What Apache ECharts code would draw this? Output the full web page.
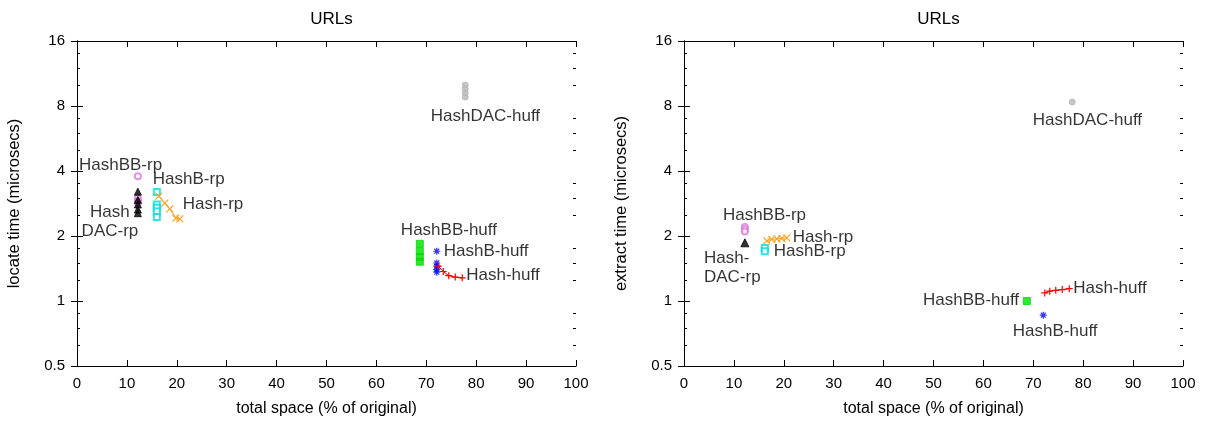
<!DOCTYPE html>
<html><head><meta charset="utf-8">
<script src="https://cdn.jsdelivr.net/npm/echarts@6/dist/echarts.min.js"></script>
<style>html,body{margin:0;padding:0;background:#fff}#c{width:1214px;height:422px}</style>
</head><body><div id="c"></div>
<script>
// ---- data (x = total space %, y = time in microsecs) ----
const titles = ['URLs', 'URLs'];
const yNames = ['locate time (microsecs)', 'extract time (microsecs)'];
const xName = 'total space (% of original)';
const yTickValues = [0.5, 1, 2, 4, 8, 16];
const yMinorValues = [0.625, 0.75, 0.875, 1.25, 1.5, 1.75, 2.5, 3, 3.5, 5, 6, 7, 10, 12, 14];

// left panel: locate
const hashBBrpL   = [[12.2,3.78],[12.2,3.0],[12.2,2.9],[12.2,2.85]];
const hashDACrpL  = [[12.2,3.21],[12.2,2.94],[12.2,2.8],[12.2,2.65],[12.2,2.55]];
const hashBrpL    = [[16.0,3.2],[16.0,2.8],[16.0,2.7],[16.0,2.6],[16.0,2.45]];
const hashrpL     = [[16.4,3.06],[17.6,2.84],[18.6,2.67],[19.8,2.42],[20.6,2.4]];
const hashBBhuffL = [[68.7,1.84],[68.7,1.7],[68.7,1.6],[68.7,1.52]];
const hashBhuffL  = [[72.1,1.7],[72.1,1.5],[72.1,1.45],[72.1,1.4],[72.1,1.36]];
const hashhuffL   = [[72.4,1.45],[73.4,1.37],[74.5,1.31],[75.8,1.29],[77.2,1.28]];
const hashDAChuffL= [[77.8,10.0],[77.8,9.6],[77.8,9.2],[77.8,8.8]];

// right panel: extract
const hashBBrpR   = [[12.2,2.2],[12.2,2.15],[12.2,2.1]];
const hashDACrpR  = [[12.2,1.86]];
const hashBrpR    = [[16.2,1.76],[16.2,1.7]];
const hashrpR     = [[16.6,1.9],[17.6,1.93],[18.6,1.94],[19.6,1.95],[20.6,1.96]];
const hashBBhuffR = [[68.7,1.0]];
const hashBhuffR  = [[72.0,0.86]];
const hashhuffR   = [[72.3,1.09],[73.3,1.11],[74.5,1.12],[75.8,1.13],[77.2,1.14]];
const hashDAChuffR= [[77.8,8.35]];

// annotation labels: [x, y, text, align]
const labelsL = [
  [0.4, 4.26, 'HashBB-rp', 'left'],
  [15.2, 3.67, 'HashB-rp', 'left'],
  [21.2, 2.81, 'Hash-rp', 'left'],
  [6.6, 2.33, 'Hash\nDAC-rp', 'center'],
  [70.9, 7.19, 'HashDAC-huff', 'left'],
  [64.9, 2.13, 'HashBB-huff', 'left'],
  [73.5, 1.70, 'HashB-huff', 'left'],
  [78.0, 1.31, 'Hash-huff', 'left']
];
const labelsR = [
  [7.8, 2.50, 'HashBB-rp', 'left'],
  [21.8, 1.98, 'Hash-rp', 'left'],
  [18.0, 1.69, 'HashB-rp', 'left'],
  [4.0, 1.43, 'Hash-\nDAC-rp', 'left'],
  [69.9, 6.89, 'HashDAC-huff', 'left'],
  [78.0, 1.15, 'Hash-huff', 'left'],
  [47.9, 1.01, 'HashBB-huff', 'left'],
  [65.9, 0.72, 'HashB-huff', 'left']
];

// ---- styles ----
const FONT = 'Liberation Sans, Arial, sans-serif';
const SYM_X = 'path://M0,0L10,10M10,0L0,10';
const SYM_PLUS = 'path://M5,0L5,10M0,5L10,5';
const SYM_STAR = 'path://M5,0L5,10M0,5L10,5M1.5,1.5L8.5,8.5M8.5,1.5L1.5,8.5';

function pts(name, data, gi, color, symbol, size, mode, line) {
  let itemStyle;
  if (mode === 'fill') itemStyle = { color: color, borderColor: color, borderWidth: 1 };
  else if (mode === 'empty') itemStyle = { color: color, borderWidth: 1 };
  else itemStyle = { color: 'rgba(0,0,0,0)', borderColor: color, borderWidth: 1.2 };
  const s = {
    name, type: line ? 'line' : 'scatter', xAxisIndex: gi * 2, yAxisIndex: gi * 4,
    data, symbol, symbolSize: size, z: 3, silent: true, animation: false, itemStyle
  };
  if (line) { s.lineStyle = { color: color, width: 1 }; s.showSymbol = true; }
  return s;
}
function labelSeries(arr, gi) {
  return {
    type: 'scatter', xAxisIndex: gi * 2, yAxisIndex: gi * 4, symbolSize: 0, silent: true, animation: false, z: 5,
    data: arr.map(a => ({
      value: [a[0], a[1]],
      label: {
        show: true, formatter: a[2], position: a[3] === 'center' ? 'inside' : 'right', distance: 0,
        align: a[3], verticalAlign: 'middle', fontSize: 17, fontFamily: FONT, color: '#000', lineHeight: 19
      }
    }))
  };
}

const grids = [
  { left: 77, right: 638, top: 41, bottom: 56 },
  { left: 684, right: 31, top: 41, bottom: 56 }
];
const xAxes = [], yAxes = [];
for (let g = 0; g < 2; g++) {
  const baseX = { type: 'value', gridIndex: g, min: 0, max: 100, interval: 10, splitLine: { show: false },
    axisLine: { show: true, lineStyle: { color: '#000', width: 1 } },
    axisTick: { show: true, inside: true, length: 6, lineStyle: { color: '#000' } } };
  xAxes.push(Object.assign({}, baseX, { position: 'bottom', name: xName, nameLocation: 'middle', nameGap: 35,
    nameTextStyle: { fontSize: 16, fontFamily: FONT, color: '#000' },
    axisLabel: { fontSize: 15, fontFamily: FONT, color: '#000', margin: 10 } }));
  xAxes.push(Object.assign({}, baseX, { position: 'top', axisLabel: { show: false } }));
  const baseY = { type: 'log', logBase: 2, gridIndex: g, min: 0.5, max: 16, splitLine: { show: false },
    axisLine: { show: true, lineStyle: { color: '#000', width: 1 } } };
  yAxes.push(Object.assign({}, baseY, { position: 'left', name: yNames[g], nameLocation: 'middle', nameGap: 54,
    nameTextStyle: { fontSize: 16.5, fontFamily: FONT, color: '#000' },
    axisTick: { show: true, inside: true, length: 6, lineStyle: { color: '#000' }, customValues: yTickValues },
    axisLabel: { fontSize: 15, fontFamily: FONT, color: '#000', margin: 12, customValues: yTickValues,
      formatter: v => String(v) } }));
  yAxes.push(Object.assign({}, baseY, { position: 'right',
    axisTick: { show: true, inside: true, length: 6, lineStyle: { color: '#000' }, customValues: yTickValues },
    axisLabel: { show: false } }));
  yAxes.push(Object.assign({}, baseY, { position: 'left', axisLine: { show: false },
    axisTick: { show: true, inside: true, length: 3, lineStyle: { color: '#000' }, customValues: yMinorValues },
    axisLabel: { show: false } }));
  yAxes.push(Object.assign({}, baseY, { position: 'right', axisLine: { show: false },
    axisTick: { show: true, inside: true, length: 3, lineStyle: { color: '#000' }, customValues: yMinorValues },
    axisLabel: { show: false } }));
}

const VIOLET = '#dd77dd', CYAN = '#00dddd', ORANGE = '#ffa020', GREEN = '#00dd00', BLUE = '#0000ff', RED = '#ff0000', GRAY = '#b8b8b8';
const series = [
  pts('HashDAC-huff', hashDAChuffL, 0, GRAY, 'circle', 6, 'fill'),
  pts('HashBB-rp', hashBBrpL, 0, VIOLET, 'emptyCircle', 6, 'empty'),
  pts('HashDAC-rp', hashDACrpL, 0, '#000', 'triangle', 7, 'fill'),
  pts('HashB-rp', hashBrpL, 0, CYAN, 'emptyRect', 6, 'empty'),
  pts('Hash-rp', hashrpL, 0, ORANGE, SYM_X, 7, 'path', true),
  pts('HashBB-huff', hashBBhuffL, 0, GREEN, 'rect', 7, 'fill'),
  pts('HashB-huff', hashBhuffL, 0, BLUE, SYM_STAR, 7, 'path'),
  pts('Hash-huff', hashhuffL, 0, RED, SYM_PLUS, 7, 'path', true),
  pts('HashDAC-huff', hashDAChuffR, 1, GRAY, 'circle', 6, 'fill'),
  pts('HashBB-rp', hashBBrpR, 1, VIOLET, 'emptyCircle', 6, 'empty'),
  pts('HashDAC-rp', hashDACrpR, 1, '#000', 'triangle', 8, 'fill'),
  pts('HashB-rp', hashBrpR, 1, CYAN, 'emptyRect', 6, 'empty'),
  pts('Hash-rp', hashrpR, 1, ORANGE, SYM_X, 7, 'path', true),
  pts('HashBB-huff', hashBBhuffR, 1, GREEN, 'rect', 7, 'fill'),
  pts('HashB-huff', hashBhuffR, 1, BLUE, SYM_STAR, 7, 'path'),
  pts('Hash-huff', hashhuffR, 1, RED, SYM_PLUS, 7, 'path', true),
  labelSeries(labelsL, 0),
  labelSeries(labelsR, 1)
];

const chart = echarts.init(document.getElementById('c'), null, { renderer: 'canvas' });
chart.setOption({
  animation: false,
  backgroundColor: '#fff',
  title: [
    { text: titles[0], left: 326.5, top: 6, textAlign: 'center', textStyle: { fontSize: 17, fontWeight: 'normal', fontFamily: FONT, color: '#000' } },
    { text: titles[1], left: 933.5, top: 6, textAlign: 'center', textStyle: { fontSize: 17, fontWeight: 'normal', fontFamily: FONT, color: '#000' } }
  ],
  grid: grids,
  xAxis: xAxes,
  yAxis: yAxes,
  series: series
});
</script>
</body></html>
